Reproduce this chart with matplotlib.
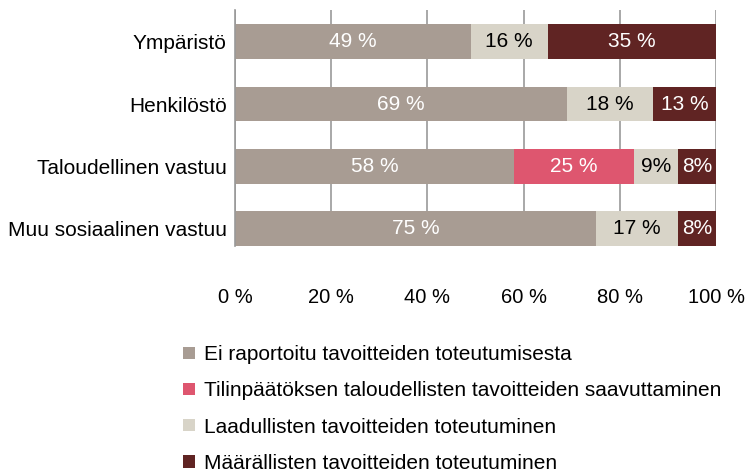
import matplotlib
matplotlib.use('Agg')
import matplotlib.pyplot as plt
from matplotlib.patches import Patch

# ======================
# DATA
# ======================
categories = ['Ympäristö', 'Henkilöstö', 'Taloudellinen vastuu', 'Muu sosiaalinen vastuu']
series_names = ['Ei raportoitu tavoitteiden toteutumisesta',
                'Tilinpäätöksen taloudellisten tavoitteiden saavuttaminen',
                'Laadullisten tavoitteiden toteutuminen',
                'Määrällisten tavoitteiden toteutuminen']
ei_raportoitu = [49, 69, 58, 75]
tilinpaatos = [0, 0, 25, 0]
laadulliset = [16, 18, 9, 17]
maaralliset = [35, 13, 8, 8]
value_labels = [
    ['49 %', '69 %', '58 %', '75 %'],
    ['', '', '25 %', ''],
    ['16 %', '18 %', '9%', '17 %'],
    ['35 %', '13 %', '8%', '8%'],
]
xticks = [0, 20, 40, 60, 80, 100]
xtick_labels = ['0 %', '20 %', '40 %', '60 %', '80 %', '100 %']

colors = ['#a89c93', '#de566f', '#d8d4c8', '#602423']
text_colors = ['white', 'white', 'black', 'white']

plt.rcParams['font.family'] = ['Liberation Sans', 'DejaVu Sans']
plt.rcParams['font.size'] = 15

# ======================
# PLOT
# ======================
fig = plt.figure(figsize=(7.5, 4.74), dpi=100)
ax = fig.add_axes([235 / 750, 1 - 246 / 474, 481 / 750, 236 / 474])

y = list(range(len(categories)))
left = [0] * len(categories)
all_series = [ei_raportoitu, tilinpaatos, laadulliset, maaralliset]
for i, vals in enumerate(all_series):
    bars = ax.barh(y, vals, left=left, height=0.56, color=colors[i], zorder=2)
    for j, b in enumerate(bars):
        if vals[j] > 0:
            ax.text(left[j] + vals[j] / 2, y[j], value_labels[i][j],
                    ha='center', va='center', color=text_colors[i], fontsize=15, zorder=3)
    left = [l + v for l, v in zip(left, vals)]

ax.set_xlim(0, 100)
ax.set_ylim(3 + 0.28, -0.51)
ax.set_yticks(y)
ax.set_yticklabels(categories)
ax.set_xticks(xticks)
ax.set_xticklabels(xtick_labels, fontsize=14.5)
ax.tick_params(axis='both', length=0)
ax.tick_params(axis='x', pad=30)
ax.tick_params(axis='y', pad=6)
ax.grid(axis='x', color='#999999', linewidth=1.2, zorder=0)
for s in ['top', 'right', 'bottom']:
    ax.spines[s].set_visible(False)
ax.spines['left'].set_color('#999999')
ax.spines['left'].set_linewidth(1.2)

handles = [Patch(facecolor=c, edgecolor='none') for c in colors]
fig.legend(handles, series_names, loc='upper left', bbox_to_anchor=(173 / 750, 1 - 335 / 474),
           frameon=False, handlelength=0.55, handleheight=0.55, handletextpad=0.45,
           labelspacing=0.82, fontsize=15, borderpad=0)

plt.savefig('out.png', dpi=100)
